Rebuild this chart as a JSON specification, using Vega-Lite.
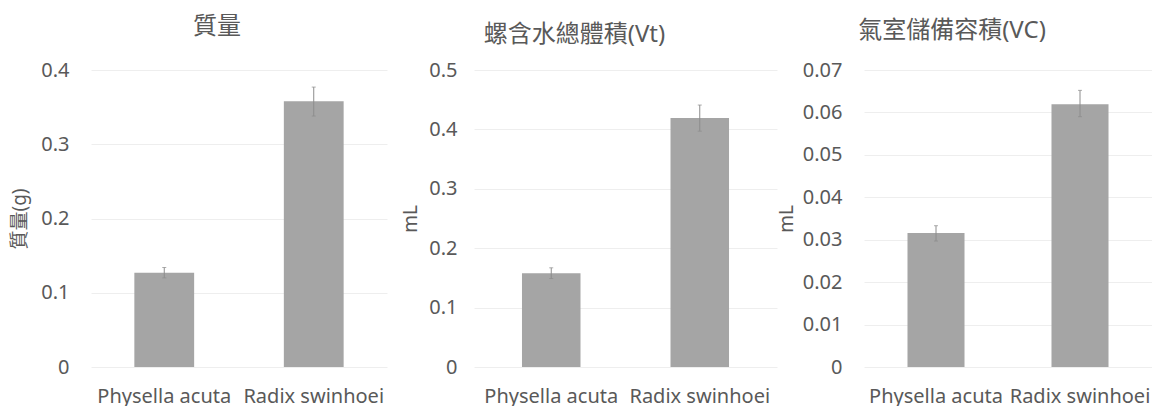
{
  "$schema": "https://vega.github.io/schema/vega-lite/v6.json",
  "background": "white",
  "padding": {"left": 10, "top": 15, "right": 0, "bottom": 0},
  "spacing": 87,
  "bounds": "flush",
  "config": {
    "font": "Noto Sans, Noto Sans CJK TC",
    "view": {"stroke": null},
    "axis": {"labelColor": "#595959", "titleColor": "#595959", "labelFont": "Noto Sans, Noto Sans CJK TC", "titleFont": "Noto Sans, Noto Sans CJK TC"},
    "title": {"color": "#595959", "font": "Noto Sans, Noto Sans CJK TC", "fontWeight": "normal", "fontSize": 24}
  },
  "datasets": {
    "mass": [
      {"species": "Physella acuta", "mean": 0.127, "lo": 0.120, "hi": 0.134},
      {"species": "Radix swinhoei", "mean": 0.358, "lo": 0.338, "hi": 0.377}
    ],
    "vt": [
      {"species": "Physella acuta", "mean": 0.158, "lo": 0.149, "hi": 0.167},
      {"species": "Radix swinhoei", "mean": 0.419, "lo": 0.397, "hi": 0.441}
    ],
    "vc": [
      {"species": "Physella acuta", "mean": 0.0316, "lo": 0.0297, "hi": 0.0333},
      {"species": "Radix swinhoei", "mean": 0.0619, "lo": 0.059, "hi": 0.0652}
    ]
  },
  "hconcat": [
    {
      "width": 296, "height": 297,
      "title": {"text": "質量", "offset": 21, "dx": -22},
      "data": {"name": "mass"},
      "encoding": {
        "x": {"field": "species", "type": "nominal", "sort": null,
          "scale": {"paddingInner": 0.6, "paddingOuter": 0.29},
          "axis": {"title": null, "labelAngle": 0, "ticks": false, "domain": false, "labelPadding": 19, "labelFontSize": 20, "grid": false}}
      },
      "layer": [
        {"mark": {"type": "bar", "color": "#a5a5a5"},
         "encoding": {"y": {"field": "mean", "type": "quantitative", "title": "質量(g)",
           "scale": {"domain": [0, 0.4], "nice": false},
           "axis": {"titleFontSize": 19, "titleFontWeight": "normal", "titleX": -72, "titleBaseline": "middle", "titleAngle": -90,
             "values": [0, 0.1, 0.2, 0.3, 0.4], "format": "~g", "ticks": false, "domain": false, "labelPadding": 22, "labelFontSize": 20,
             "grid": true, "gridColor": "#eeeeee"}}}},
        {"mark": {"type": "errorbar", "color": "#8c8c8c", "thickness": 1, "ticks": {"size": 4, "thickness": 1, "color": "#8c8c8c"}},
         "encoding": {"y": {"field": "lo", "type": "quantitative", "title": "質量(g)"}, "y2": {"field": "hi"}}}
      ]
    },
    {
      "width": 303, "height": 297,
      "title": {"text": "螺含水總體積(Vt)", "offset": 13, "dx": -51},
      "data": {"name": "vt"},
      "encoding": {
        "x": {"field": "species", "type": "nominal", "sort": null,
          "scale": {"paddingInner": 0.606, "paddingOuter": 0.323},
          "axis": {"title": null, "labelAngle": 0, "ticks": false, "domain": false, "labelPadding": 19, "labelFontSize": 20, "grid": false}}
      },
      "layer": [
        {"mark": {"type": "bar", "color": "#a5a5a5"},
         "encoding": {"y": {"field": "mean", "type": "quantitative", "title": "mL",
           "scale": {"domain": [0, 0.5], "nice": false},
           "axis": {"titleFontSize": 19, "titleFontWeight": "normal", "titleX": -64, "titleBaseline": "middle", "titleAngle": -90,
             "values": [0, 0.1, 0.2, 0.3, 0.4, 0.5], "format": "~g", "ticks": false, "domain": false, "labelPadding": 17, "labelFontSize": 20,
             "grid": true, "gridColor": "#eeeeee"}}}},
        {"mark": {"type": "errorbar", "color": "#8c8c8c", "thickness": 1, "ticks": {"size": 4, "thickness": 1, "color": "#8c8c8c"}},
         "encoding": {"y": {"field": "lo", "type": "quantitative", "title": "mL"}, "y2": {"field": "hi"}}}
      ]
    },
    {
      "width": 288, "height": 297,
      "title": {"text": "氣室儲備容積(VC)", "offset": 17, "dx": -56},
      "data": {"name": "vc"},
      "encoding": {
        "x": {"field": "species", "type": "nominal", "sort": null,
          "scale": {"paddingInner": 0.604, "paddingOuter": 0.302},
          "axis": {"title": null, "labelAngle": 0, "ticks": false, "domain": false, "labelPadding": 19, "labelFontSize": 20, "grid": false}}
      },
      "layer": [
        {"mark": {"type": "bar", "color": "#a5a5a5"},
         "encoding": {"y": {"field": "mean", "type": "quantitative", "title": "mL",
           "scale": {"domain": [0, 0.07], "nice": false},
           "axis": {"titleFontSize": 19, "titleFontWeight": "normal", "titleX": -78, "titleBaseline": "middle", "titleAngle": -90,
             "values": [0, 0.01, 0.02, 0.03, 0.04, 0.05, 0.06, 0.07], "format": "~g", "ticks": false, "domain": false, "labelPadding": 22, "labelFontSize": 20,
             "grid": true, "gridColor": "#eeeeee"}}}},
        {"mark": {"type": "errorbar", "color": "#8c8c8c", "thickness": 1, "ticks": {"size": 4, "thickness": 1, "color": "#8c8c8c"}},
         "encoding": {"y": {"field": "lo", "type": "quantitative", "title": "mL"}, "y2": {"field": "hi"}}}
      ]
    }
  ]
}
